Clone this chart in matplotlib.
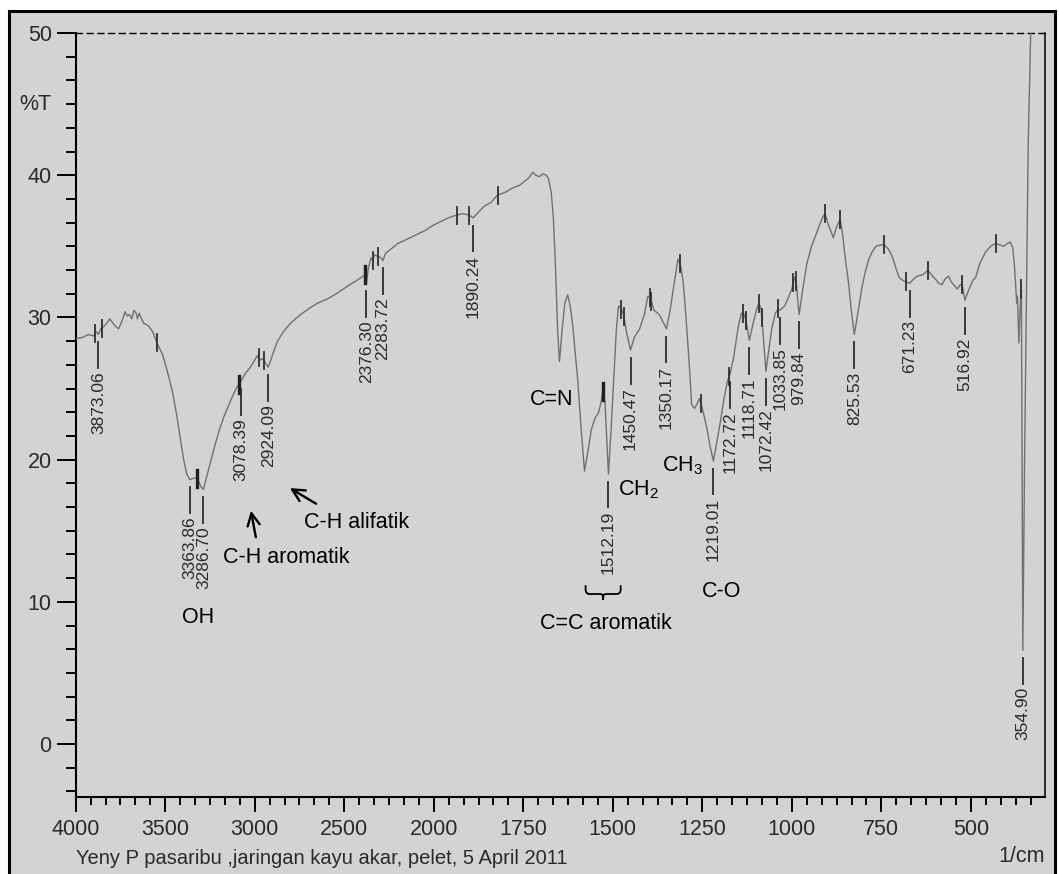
import numpy as np
import matplotlib
matplotlib.use("Agg")
import matplotlib.pyplot as plt
from matplotlib import font_manager
from matplotlib.patches import Rectangle
from matplotlib.ticker import FixedLocator, NullFormatter

# FTIR spectrum, wavenumber (1/cm) vs %T
wavenumber = [
    4000, 3960, 3930, 3900, 3885, 3873.06, 3860, 3840, 3826, 3810, 3798, 3780, 3760, 3740,
    3724, 3712, 3700, 3686, 3675, 3662, 3655, 3645, 3632, 3621, 3593, 3570, 3546, 3515,
    3490, 3460, 3434, 3415, 3397, 3380, 3363.86, 3340, 3322, 3300, 3286.70, 3260, 3229,
    3200, 3173, 3130, 3100, 3078.39, 3050, 3024, 3000, 2986, 2970, 2955, 2940, 2924.09,
    2905, 2874, 2840, 2800, 2744, 2700, 2650, 2594, 2540, 2482, 2430, 2395, 2386, 2376.30,
    2365, 2350, 2342, 2330, 2314, 2295, 2283.72, 2270, 2240, 2200, 2150, 2100, 2050, 2000,
    1960, 1936, 1920, 1901, 1890.24, 1875, 1860, 1840, 1822, 1800, 1780, 1760, 1745, 1735,
    1724, 1715, 1705, 1695, 1686, 1680, 1672, 1666, 1660, 1654, 1649, 1642, 1634, 1626,
    1619, 1612, 1605, 1598, 1588, 1579, 1570, 1560, 1550, 1540, 1533, 1528, 1522, 1516,
    1512.19, 1505, 1498, 1490, 1484, 1478, 1470, 1462, 1450.47, 1440, 1425, 1412, 1402,
    1395, 1385, 1370, 1360, 1350.17, 1340, 1328, 1318, 1310, 1303, 1295, 1286, 1280, 1272,
    1265, 1258, 1250, 1238, 1228, 1219.01, 1210, 1200, 1190, 1180, 1172.72, 1163, 1150,
    1141, 1135, 1128, 1118.71, 1108, 1098, 1092, 1086, 1080, 1072.42, 1064, 1056, 1046,
    1038, 1033.85, 1020, 1010, 1000, 993, 988, 979.84, 970, 958, 945, 930, 915, 907, 898,
    890, 884, 876, 865, 858, 850, 842, 834, 825.53, 815, 805, 795, 785, 776, 765, 752, 742,
    730, 720, 710, 700, 690, 681, 671.23, 660, 650, 635, 620, 610, 599, 590, 581, 572, 562,
    555, 548, 538, 530, 524, 516.92, 505, 495, 487, 475, 459, 445, 431, 420, 408, 398, 390,
    383, 378, 372, 370, 366, 362, 359, 357, 354.90, 350, 340, 333, 325, 310, 293,
]
transmittance = [
    28.5, 28.6, 28.8, 28.7, 29.0, 28.8, 29.2, 29.4, 29.6, 29.9, 29.7, 29.4, 29.2, 29.8,
    30.4, 30.1, 30.2, 29.9, 30.5, 30.3, 29.9, 30.3, 29.9, 29.6, 29.4, 29.0, 28.2, 27.4,
    26.3, 24.8, 23.0, 21.4, 20.0, 19.0, 18.6, 18.7, 18.7, 18.1, 17.9, 19.2, 20.7,
    22.0, 23.0, 24.3, 25.1, 25.5, 26.1, 26.5, 27.0, 27.3, 27.0, 27.1, 26.8, 26.5,
    27.2, 28.3, 29.0, 29.6, 30.2, 30.6, 31.0, 31.3, 31.7, 32.2, 32.6, 32.9, 33.0, 32.4,
    33.5, 34.2, 34.0, 34.4, 34.3, 34.2, 34.0, 34.5, 34.8, 35.2, 35.5, 35.8, 36.1, 36.5,
    37.0, 37.2, 37.3, 37.2, 37.0, 37.4, 37.8, 38.1, 38.6, 38.8, 39.1, 39.3, 39.6, 39.8,
    40.2, 40.0, 39.9, 40.1, 40.0, 39.8, 38.8, 37.0, 33.5, 29.0, 26.9, 29.0, 31.0, 31.6,
    30.8, 29.5, 27.5, 25.6, 22.0, 19.2, 20.5, 22.1, 22.9, 23.3, 24.0, 24.9, 24.1, 21.0,
    19.0, 22.0, 25.4, 29.2, 30.8, 30.7, 30.2, 29.0, 27.7, 28.6, 29.2, 30.2, 31.5,
    31.4, 30.5, 30.2, 29.7, 29.2, 30.5, 32.5, 34.1, 33.6, 32.4, 29.8, 26.5, 23.9, 23.6,
    23.9, 24.3, 23.6, 22.3, 20.9, 19.9, 21.2, 22.6, 24.2, 25.5, 26.0, 27.1, 29.3,
    30.3, 30.3, 29.8, 28.4, 29.6, 30.6, 31.0, 30.6, 28.8, 26.2, 27.8, 29.2, 30.3,
    30.6, 30.5, 30.8, 31.4, 32.0, 32.8, 32.5, 30.2, 31.9, 33.8, 35.0, 36.0, 37.0, 37.3, 36.5,
    36.0, 35.6, 36.3, 36.9, 35.8, 34.0, 32.5, 30.5, 28.8, 30.4, 32.0, 33.2, 34.1, 34.6, 35.0, 35.1, 35.1,
    34.8, 34.3, 33.5, 32.8, 32.6, 32.5, 32.4, 32.7, 32.9, 33.0, 33.3, 33.0, 32.7, 32.4, 32.3, 32.7, 32.9,
    32.5, 32.3, 32.0, 32.3, 32.3, 31.2, 32.0, 32.6, 32.8, 33.8, 34.6, 35.0, 35.2, 35.1, 35.0, 35.2, 35.3,
    34.9, 33.5, 31.0, 31.5, 28.2, 31.0, 32.0, 20.0, 6.6, 20.0, 42.0, 50.0, 55.0, 58.0, 58.0,
]

# picked minima (labelled) and picked maxima (short marks on the trace)
peak_labels = [3873.06, 3363.86, 3286.70, 3078.39, 2924.09, 2376.30, 2283.72, 1890.24,
               1512.19, 1450.47, 1350.17, 1219.01, 1172.72, 1118.71, 1072.42, 1033.85,
               979.84, 825.53, 671.23, 516.92, 354.90]
peak_marks = [3892, 3855, 3547, 2978, 2950, 2342, 2314, 1936, 1901, 1822, 1476, 1469,
              1397, 1392, 1313, 1254, 1175, 1136, 1128, 1092, 1084, 1038, 996, 989,
              907, 865, 742, 681, 620, 524, 431, 359]
heavy_marks = [3322, 3089, 2386, 1527]

xtick_major = [4000, 3500, 3000, 2500, 2000, 1750, 1500, 1250, 1000, 750, 500]
ytick_major = [0, 10, 20, 30, 40, 50]

footer = "Yeny P pasaribu ,jaringan kayu akar, pelet, 5 April 2011"

installed = {f.name for f in font_manager.fontManager.ttflist}
narrow = "Liberation Sans Narrow" if "Liberation Sans Narrow" in installed else "Liberation Sans"
tick_size = 18 if narrow == "Liberation Sans Narrow" else 15.5

plt.rcParams["font.family"] = ["Liberation Sans", "DejaVu Sans"]
plt.rcParams["mathtext.default"] = "regular"

W, H = 1059, 874
fig = plt.figure(figsize=(W / 100, H / 100), dpi=100, facecolor="white")
fig.patches.append(Rectangle((9 / W, -0.05), (1055 - 9) / W, 1.05 - 11 / H,
                             transform=fig.transFigure, facecolor="#d3d3d3",
                             edgecolor="black", lw=2.2, zorder=-5))

ax = fig.add_axes([75.7 / W, 1 - 796.7 / H, (1045 - 75.7) / W, (796.7 - 33) / H])
ax.set_facecolor("none")


# 4000-2000 is drawn at half the scale of 2000-400
def fwd(w):
    w = np.asarray(w, dtype=float)
    return np.where(w > 2000, 2000 + (w - 2000) / 2, w)


def inv(u):
    u = np.asarray(u, dtype=float)
    return np.where(u > 2000, 2000 + (u - 2000) * 2, u)


ax.set_xscale("function", functions=(fwd, inv))
ax.set_xlim(4000, 293)
ax.set_ylim(-3.7, 50)

wn = np.array(wavenumber)
tr = np.array(transmittance)
ax.plot(wn, tr, color="#707070", lw=1.0, zorder=3)

wn_asc = wn[::-1]
tr_asc = tr[::-1]
for w in peak_marks:
    t = np.interp(w, wn_asc, tr_asc)
    ax.plot([w, w], [t - 0.6, t + 0.6], color="#303030", lw=1.3, zorder=4)
for w in heavy_marks:
    t = np.interp(w, wn_asc, tr_asc)
    ax.plot([w, w], [t - 0.6, t + 0.6], color="#202020", lw=2.4, zorder=4)

for w in peak_labels:
    t = np.interp(w, wn_asc, tr_asc)
    ax.plot([w, w], [t - 0.55, t - 2.35], color="#2b2b2b", lw=1.3, zorder=4)
    ax.text(w, t - 2.6, f"{w:.2f}", rotation=90, ha="center", va="top",
            fontsize=12.5, color="#2b2b2b")

# axes styling
for side in ["left", "bottom"]:
    ax.spines[side].set_linewidth(1.5)
ax.spines["right"].set_linewidth(1.1)
ax.spines["top"].set_linewidth(1.0)
ax.spines["top"].set_linestyle((0, (4.3, 3.4)))

ax.xaxis.set_major_locator(FixedLocator(xtick_major))
ax.xaxis.set_minor_locator(FixedLocator(np.concatenate([
    4000 - np.arange(0, 24) * 500 / 6, 2000 - np.arange(0, 41) * 250 / 6])))
ax.xaxis.set_minor_formatter(NullFormatter())
ax.set_xticklabels([str(v) for v in xtick_major])
ax.yaxis.set_major_locator(FixedLocator(ytick_major))
ax.yaxis.set_minor_locator(FixedLocator(np.arange(-2, 31) * 5 / 3))
ax.yaxis.set_minor_formatter(NullFormatter())

ax.tick_params(axis="y", which="major", length=13.7, width=1.4, pad=3.6)
ax.tick_params(axis="y", which="minor", length=7.2, width=1.4)
ax.tick_params(axis="x", which="major", length=10.8, width=1.4, pad=5.5)
ax.tick_params(axis="x", which="minor", length=5.8, width=1.4)
for lab in ax.get_xticklabels() + ax.get_yticklabels():
    lab.set_fontfamily(narrow)
    lab.set_fontsize(tick_size)
    lab.set_color("#2a2a2a")

ax.text(-0.0248, 45, "%T", transform=ax.get_yaxis_transform(), ha="right", va="center",
        fontsize=tick_size, family=narrow, color="#2a2a2a")
fig.text(1045 / W, 1 - 857 / H, "1/cm", ha="right", va="center",
         fontsize=tick_size, family=narrow, color="#2a2a2a")
fig.text(76 / W, 1 - 858 / H, footer, ha="left", va="center",
         fontsize=tick_size - 1, family=narrow, color="#2a2a2a")

# functional group assignments
note = dict(fontsize=15.5, color="black")
ax.text(3318, 8.93, "OH", ha="center", va="center", **note)
ax.text(3175, 13.15, "C-H aromatik", ha="left", va="center", **note)
ax.text(2727, 15.6, "C-H alifatik", ha="left", va="center", **note)
ax.text(1670, 24.26, "C=N", ha="center", va="center", **note)
ax.text(1485, 17.5, "CH$_2$", ha="left", va="baseline", **note)
ax.text(1362, 19.15, "CH$_3$", ha="left", va="baseline", **note)
ax.text(1196, 10.7, "C-O", ha="center", va="center", **note)
ax.text(1518, 8.5, "C=C aromatik", ha="center", va="center", **note)

arrow = dict(arrowstyle="->", lw=1.7, color="black", mutation_scale=22)
ax.annotate("", xy=(3024, 16.6), xytext=(2991, 14.35), arrowprops=arrow)
ax.annotate("", xy=(2817, 18.1), xytext=(2644, 16.8), arrowprops=arrow)

# curly brace under the aromatic ring bands (x in px steps of 2.8 1/cm, y in 1/14.22 %T)
brace_dx = np.array([0, 0, 0.6, 2, 4, 15, 16.5, 17.3, 17.5, 17.5])
brace_dy = np.array([0, 4, 6, 7.4, 7.8, 7.8, 8.3, 9.5, 11, 13])
bx = np.concatenate([brace_dx, 35 - brace_dx[::-1]])
by = np.concatenate([brace_dy, brace_dy[::-1]])
ax.plot(1576 - bx * 2.8, 11.1 - by / 14.22, color="black", lw=1.3)

fig.savefig("out.png", dpi=100, facecolor="white")
